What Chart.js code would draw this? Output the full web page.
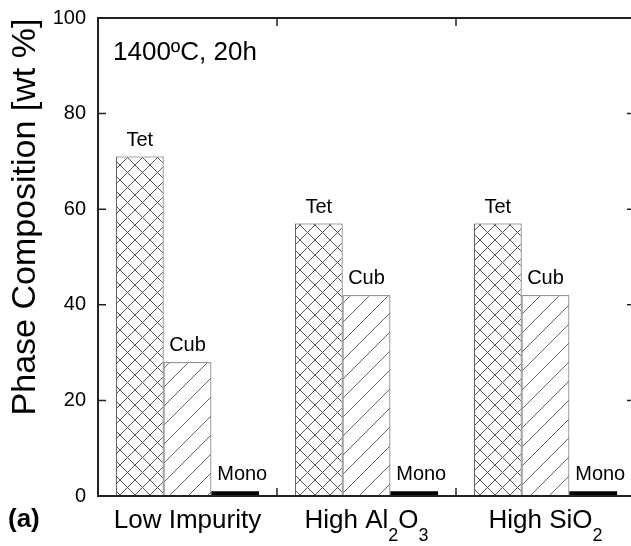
<!DOCTYPE html>
<html>
<head>
<meta charset="utf-8">
<script src="https://cdn.jsdelivr.net/npm/chart.js@4.4.0/dist/chart.umd.min.js"></script>
<style>
  html, body { margin: 0; padding: 0; background: #fff; overflow: hidden; }
  #wrap { width: 631px; height: 546px; }
</style>
</head>
<body>
<div id="wrap"><canvas id="c" width="631" height="546"></canvas></div>
<script>
// ---- data ----
const categories = ["Low Impurity", "High Al2O3", "High SiO2"];
const tetValues = [71, 57, 57];
const cubValues = [28, 42, 42];
const monoValues = [1, 1, 1];
const seriesNames = ["Tet", "Cub", "Mono"];
const yTicks = [0, 20, 40, 60, 80, 100];
const xLabelParts = [
  [["Low Impurity", false]],
  [["High Al", false], ["2", true], ["O", false], ["3", true]],
  [["High SiO", false], ["2", true]]
];
const yTitle = "Phase Composition [wt %]";
const annotation = "1400ºC, 20h";
const panelLabel = "(a)";

function makePattern(p, cross, color) {
  const c = document.createElement('canvas');
  c.width = p; c.height = p;
  const g = c.getContext('2d');
  g.fillStyle = '#fff'; g.fillRect(0, 0, p, p);
  g.strokeStyle = color; g.lineWidth = 1;
  g.beginPath();
  g.moveTo(-1, p + 1); g.lineTo(p + 1, -1);
  g.moveTo(-1, 1); g.lineTo(1, -1);
  g.moveTo(p - 1, p + 1); g.lineTo(p + 1, p - 1);
  if (cross) {
    g.moveTo(-1, -1); g.lineTo(p + 1, p + 1);
    g.moveTo(p - 1, -1); g.lineTo(p + 1, 1);
    g.moveTo(-1, p - 1); g.lineTo(1, p + 1);
  }
  g.stroke();
  return g.createPattern(c, 'repeat');
}
const crossPat = makePattern(15, true, '#555');
const diagPat = makePattern(19, false, '#666');

const FONT = '"Liberation Sans", Arial, sans-serif';
const AREA = { top: 18, right: 635 }; // plot frame extends slightly past the right edge, as in the original

const drawPlugin = {
  id: 'custom',
  afterLayout(chart) {
    const a = chart.chartArea;
    const xs = chart.scales.x, ys = chart.scales.y;
    a.top = AREA.top; a.right = AREA.right;
    a.width = a.right - a.left; a.height = a.bottom - a.top;
    xs.right = AREA.right; xs.width = xs.right - xs.left; xs.configure();
    ys.top = AREA.top; ys.height = ys.bottom - ys.top; ys.configure();
  },
  afterDatasetsDraw(chart) {
    const ctx = chart.ctx;
    const a = chart.chartArea;
    const xs = chart.scales.x, ys = chart.scales.y;
    ctx.save();
    ctx.fillStyle = '#000';
    ctx.font = '20px ' + FONT;
    ctx.textAlign = 'center';
    ctx.textBaseline = 'alphabetic';
    chart.data.datasets.forEach((ds, di) => {
      const meta = chart.getDatasetMeta(di);
      meta.data.forEach(el => {
        const dx = di === 2 ? 7 : 0;
        ctx.fillText(seriesNames[di], el.x + dx, el.y - 11);
      });
    });
    ctx.strokeStyle = '#222';
    ctx.lineWidth = 2;
    ctx.strokeRect(a.left, a.top, a.right - a.left, a.bottom - a.top);
    ctx.lineWidth = 1.5;
    ctx.beginPath();
    yTicks.forEach(v => {
      const y = ys.getPixelForValue(v);
      ctx.moveTo(a.left, y); ctx.lineTo(a.left + 8, y);
      ctx.moveTo(a.right, y); ctx.lineTo(a.right - 8, y);
    });
    for (let i = 1; i < categories.length; i++) {
      const x = (xs.getPixelForValue(i - 1) + xs.getPixelForValue(i)) / 2;
      ctx.moveTo(x, a.bottom); ctx.lineTo(x, a.bottom - 8);
      ctx.moveTo(x, a.top); ctx.lineTo(x, a.top + 8);
    }
    ctx.stroke();
    categories.forEach((cat, i) => {
      const parts = xLabelParts[i];
      const cx = xs.getPixelForValue(i);
      let total = 0;
      parts.forEach(([t, sub]) => {
        ctx.font = (sub ? '18px ' : '26px ') + FONT;
        total += ctx.measureText(t).width;
      });
      let x = cx - total / 2;
      ctx.textAlign = 'left';
      parts.forEach(([t, sub]) => {
        ctx.font = (sub ? '18px ' : '26px ') + FONT;
        ctx.fillText(t, x, sub ? 541 : 528);
        x += ctx.measureText(t).width;
      });
    });
    ctx.font = '26px ' + FONT;
    ctx.textAlign = 'left';
    ctx.fillText(annotation, 113, 60);
    ctx.font = 'bold 26px ' + FONT;
    ctx.fillText(panelLabel, 8, 527);
    ctx.save();
    ctx.translate(35, 217);
    ctx.rotate(-Math.PI / 2);
    ctx.font = '34px ' + FONT;
    ctx.textAlign = 'center';
    ctx.fillText(yTitle, 0, 0);
    ctx.restore();
    ctx.restore();
  }
};

new Chart(document.getElementById('c'), {
  type: 'bar',
  data: {
    labels: categories,
    datasets: [
      { label: seriesNames[0], data: tetValues, backgroundColor: crossPat, borderColor: '#444', borderWidth: 1 },
      { label: seriesNames[1], data: cubValues, backgroundColor: diagPat, borderColor: '#444', borderWidth: 1 },
      { label: seriesNames[2], data: monoValues, backgroundColor: '#000', borderColor: '#000', borderWidth: 0 }
    ]
  },
  options: {
    responsive: false,
    animation: false,
    devicePixelRatio: 1,
    layout: { padding: { top: 6, right: 0, left: 0, bottom: 0 } },
    datasets: { bar: { categoryPercentage: 0.8, barPercentage: 1.0 } },
    plugins: { legend: { display: false }, tooltip: { enabled: false } },
    scales: {
      x: {
        grid: { display: false, drawTicks: false },
        border: { display: false },
        ticks: { display: false },
        afterFit(s) { s.height = 50; }
      },
      y: {
        min: 0, max: 100,
        grid: { display: false, drawTicks: false },
        border: { display: false },
        ticks: { stepSize: 20, color: '#000', padding: 12, font: { family: FONT, size: 20 } },
        title: { display: false },
        afterFit(s) { s.width = 98; }
      }
    }
  },
  plugins: [drawPlugin]
});
</script>
</body>
</html>
